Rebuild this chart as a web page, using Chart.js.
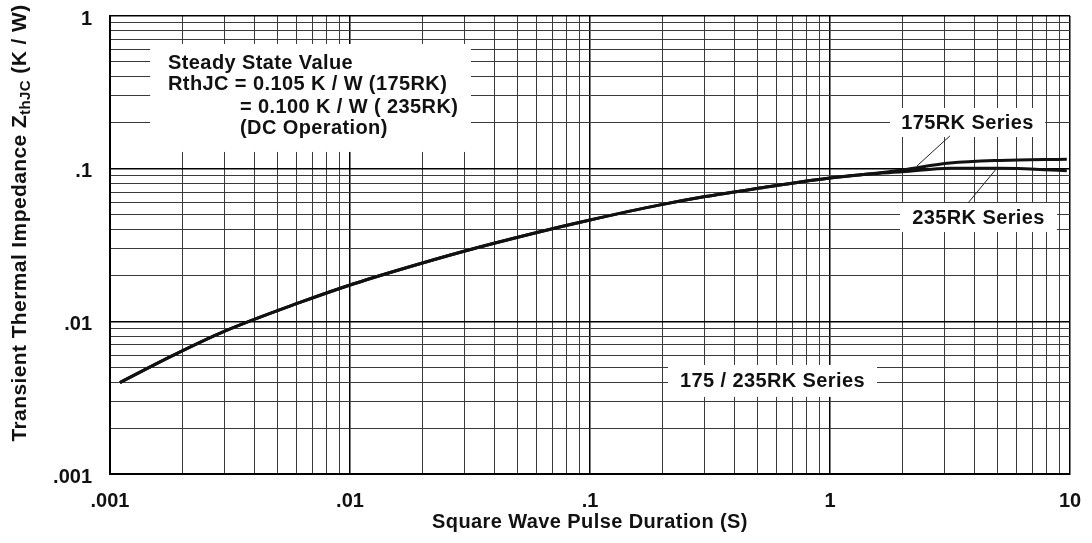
<!DOCTYPE html>
<html>
<head>
    <meta charset="utf-8">
    <title>Transient Thermal Impedance</title>
    <script src="https://cdn.jsdelivr.net/npm/chart.js@4.4.1/dist/chart.umd.min.js"></script>
    <style>
        html, body { margin: 0; padding: 0; background: #fff; }
        #wrap { width: 1092px; height: 543px; position: relative; }
    </style>
</head>
<body>
<div id="wrap"><canvas id="zthChart"></canvas></div>
<script>
    // pulse duration (s) and Zth (K/W)
    const pulseTimes = [0.0011, 0.00183, 0.00299, 0.00619, 0.0103, 0.0162, 0.0296, 0.0601, 0.1, 0.196, 0.302, 0.496, 1.0, 1.45, 2.0, 3.16, 5.1, 9.7];
    const z175 = [0.00397, 0.00598, 0.00859, 0.0133, 0.01757, 0.02187, 0.0287, 0.0382, 0.0461, 0.0579, 0.0657, 0.0742, 0.0869, 0.0923, 0.0981, 0.1088, 0.1133, 0.1153];
    const z235 = [0.00397, 0.00598, 0.00859, 0.0133, 0.01757, 0.02187, 0.0287, 0.0382, 0.0461, 0.0579, 0.0657, 0.0742, 0.0869, 0.0923, 0.0953, 0.1005, 0.1005, 0.0970];

    const xDecades = [0.001, 0.01, 0.1, 1];
    const yDecades = [0.001, 0.01, 0.1];
    const tickText = { 0.001: '.001', 0.01: '.01', 0.1: '.1', 1: '1', 10: '10' };

    // white label boxes that break the grid (data coords)
    const labelBoxes = [
        { t0: 0.00147, t1: 0.0319, z0: 0.656, z1: 0.1287 },
        { t0: 1.778, t1: 7.87, z0: 0.2497, z1: 0.1612 },
        { t0: 1.957, t1: 8.83, z0: 0.0596, z1: 0.0385 },
        { t0: 0.2113, t1: 1.57, z0: 0.00518, z1: 0.0032 }
    ];
    const boxTexts = ['', '175RK Series', '235RK Series', '175 / 235RK Series'];
    const steadyText = [
        { text: 'Steady State Value', t: 0.001745, z: 0.492 },
        { text: 'RthJC = 0.105 K / W (175RK)', t: 0.001745, z: 0.3533 },
        { text: '= 0.100 K / W ( 235RK)', t: 0.00348, z: 0.2535 },
        { text: '(DC Operation)', t: 0.00348, z: 0.1847 }
    ];
    const leaders = [
        { t0: 3.16, z0: 0.164, t1: 2.3, z1: 0.104 },
        { t0: 3.76, z0: 0.0596, t1: 4.97, z1: 0.1012 }
    ];

    const FONT = "'Liberation Sans', Arial, sans-serif";

    function decadeTicks(decades, top) {
        const out = [];
        decades.forEach(d => { for (let m = 1; m <= 9; m++) out.push(+(d * m).toPrecision(6)); });
        out.push(top);
        return out;
    }
    function isDecade(v) {
        const l = Math.log10(v);
        return Math.abs(l - Math.round(l)) < 1e-6;
    }

    const annoPlugin = {
        id: 'anno',
        beforeDatasetsDraw(chart) {
            const { ctx, scales: { x, y } } = chart;
            ctx.save();
            ctx.fillStyle = '#fff';
            labelBoxes.forEach(b => {
                const l = x.getPixelForValue(b.t0), r = x.getPixelForValue(b.t1);
                const t = y.getPixelForValue(b.z0), bt = y.getPixelForValue(b.z1);
                ctx.fillRect(l, t, r - l, bt - t);
            });
            ctx.restore();
        },
        afterDatasetsDraw(chart) {
            const { ctx, scales: { x, y } } = chart;
            ctx.save();
            ctx.fillStyle = '#111';
            ctx.font = 'bold 20px ' + FONT;
            ctx.letterSpacing = '0.4px';
            ctx.textBaseline = 'middle';

            ctx.textAlign = 'left';
            steadyText.forEach(s => ctx.fillText(s.text, x.getPixelForValue(s.t), y.getPixelForValue(s.z)));

            ctx.textAlign = 'center';
            labelBoxes.forEach((b, i) => {
                if (!boxTexts[i]) return;
                const cx = (x.getPixelForValue(b.t0) + x.getPixelForValue(b.t1)) / 2;
                const cy = (y.getPixelForValue(b.z0) + y.getPixelForValue(b.z1)) / 2;
                ctx.fillText(boxTexts[i], cx, cy + 1);
            });

            ctx.strokeStyle = '#222';
            ctx.lineWidth = 1;
            leaders.forEach(l => {
                ctx.beginPath();
                ctx.moveTo(x.getPixelForValue(l.t0), y.getPixelForValue(l.z0));
                ctx.lineTo(x.getPixelForValue(l.t1), y.getPixelForValue(l.z1));
                ctx.stroke();
            });

            // x title
            ctx.fillText('Square Wave Pulse Duration (S)', (chart.chartArea.left + chart.chartArea.right) / 2, 522);

            // y title with subscript
            const main1 = 'Transient Thermal Impedance Z';
            const sub = 'thJC';
            const main2 = ' (K / W)';
            ctx.font = 'bold 21px ' + FONT;
            const w1 = ctx.measureText(main1).width, w3 = ctx.measureText(main2).width;
            ctx.font = 'bold 15px ' + FONT;
            const w2 = ctx.measureText(sub).width;
            const total = w1 + w2 + w3;
            ctx.translate(20, 223);
            ctx.rotate(-Math.PI / 2);
            ctx.textAlign = 'left';
            let px = -total / 2;
            ctx.font = 'bold 21px ' + FONT;
            ctx.fillText(main1, px, 0);
            px += w1;
            ctx.font = 'bold 15px ' + FONT;
            ctx.fillText(sub, px, 6);
            px += w2;
            ctx.font = 'bold 21px ' + FONT;
            ctx.fillText(main2, px, 0);
            ctx.restore();
        }
    };

    const curveStyle = {
        borderColor: '#111',
        borderWidth: 3,
        pointRadius: 0,
        fill: false,
        cubicInterpolationMode: 'monotone'
    };

    new Chart(document.getElementById('zthChart').getContext('2d'), {
        type: 'line',
        data: {
            datasets: [
                Object.assign({ label: '175RK Series', data: pulseTimes.map((t, i) => ({ x: t, y: z175[i] })) }, curveStyle),
                Object.assign({ label: '235RK Series', data: pulseTimes.map((t, i) => ({ x: t, y: z235[i] })) }, curveStyle)
            ]
        },
        options: {
            responsive: true,
            maintainAspectRatio: false,
            animation: false,
            layout: { padding: { top: 16, right: 22, left: 0, bottom: 0 } },
            plugins: { legend: { display: false }, tooltip: { enabled: false } },
            scales: {
                x: {
                    type: 'logarithmic',
                    min: 0.001,
                    max: 10,
                    afterBuildTicks: s => { s.ticks = decadeTicks(xDecades, 10).map(v => ({ value: v })); },
                    afterFit: s => { s.height = 69; s.paddingLeft = 0; s.paddingRight = 0; },
                    grid: {
                        drawTicks: false,
                        color: c => isDecade(c.tick.value) ? '#000' : '#3a3a3a',
                        lineWidth: c => isDecade(c.tick.value) ? 1.5 : 1
                    },
                    border: { color: '#000', width: 2 },
                    ticks: {
                        autoSkip: false,
                        maxRotation: 0,
                        padding: 15,
                        color: '#111',
                        font: { family: FONT, size: 20, weight: 'bold' },
                        callback: v => tickText[+(+v).toPrecision(6)] || ''
                    }
                },
                y: {
                    type: 'logarithmic',
                    min: 0.001,
                    max: 1,
                    afterBuildTicks: s => { s.ticks = decadeTicks(yDecades, 1).map(v => ({ value: v })); },
                    afterFit: s => { s.width = 110; s.paddingTop = 0; s.paddingBottom = 0; },
                    grid: {
                        drawTicks: false,
                        color: c => isDecade(c.tick.value) ? '#000' : '#3a3a3a',
                        lineWidth: c => isDecade(c.tick.value) ? 1.5 : 1
                    },
                    border: { color: '#000', width: 2 },
                    ticks: {
                        autoSkip: false,
                        padding: 18,
                        labelOffset: 3,
                        color: '#111',
                        font: { family: FONT, size: 20, weight: 'bold' },
                        callback: v => tickText[+(+v).toPrecision(6)] || ''
                    }
                }
            }
        },
        plugins: [annoPlugin]
    });
</script>
</body>
</html>
